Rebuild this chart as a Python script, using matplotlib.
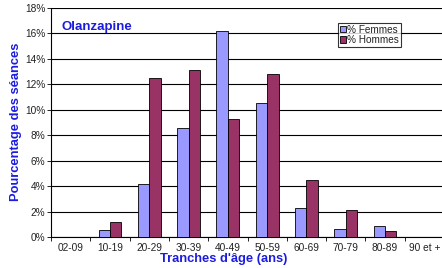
import numpy as np
import matplotlib
matplotlib.use('Agg')
import matplotlib.pyplot as plt

plt.rcParams['font.family'] = ['Liberation Sans', 'DejaVu Sans']

tranches = ['02-09', '10-19', '20-29', '30-39', '40-49', '50-59',
            '60-69', '70-79', '80-89', '90 et +']
femmes = [0.0, 0.53, 4.2, 8.55, 16.2, 10.5, 2.25, 0.66, 0.87, 0.0]
hommes = [0.0, 1.19, 12.5, 13.15, 9.3, 12.8, 4.46, 2.11, 0.45, 0.0]

blue = '#1c1ce0'

fig = plt.figure(figsize=(4.42, 2.68), dpi=100)
ax = fig.add_axes([51/442, 1 - 237/268, 393/442, 229/268])

x = np.arange(len(tranches))
w = 0.29
ax.bar(x - w/2, femmes, w, color='#9999FF', edgecolor='black', linewidth=0.6,
       label='% Femmes', zorder=3)
ax.bar(x + w/2, hommes, w, color='#993366', edgecolor='black', linewidth=0.6,
       label='% Hommes', zorder=3)

ax.set_xlim(-0.5, len(tranches) - 0.5)
ax.set_ylim(0, 18)
ax.set_yticks(range(0, 19, 2))
ax.set_yticklabels(['%d%%' % v for v in range(0, 19, 2)])
ax.yaxis.grid(True, color='black', linewidth=0.8, zorder=0)
ax.set_xticks(x)
ax.set_xticklabels(tranches)
ax.set_xticks(np.arange(-0.5, len(tranches)), minor=True)
ax.tick_params(axis='x', which='major', length=0, labelsize=7.3, pad=4,
               labelcolor='#222222')
ax.tick_params(axis='x', which='minor', length=3, width=0.6)
ax.tick_params(axis='y', length=3, width=0.6, labelsize=7.3, pad=1,
               labelcolor='#222222')
for s in ['right', 'top']:
    ax.spines[s].set_visible(False)
ax.spines['left'].set_linewidth(0.8)
ax.spines['bottom'].set_linewidth(0.8)

fig.text(62/442, 1 - 27/268, 'Olanzapine', color=blue,
         fontsize=9.5, fontweight='bold', va='center')
fig.text(224/442, 1 - 259/268, "Tranches d'âge (ans)", color=blue,
         fontsize=9.3, fontweight='bold', ha='center', va='center')
fig.text(16/442, 1 - 122/268, 'Pourcentage des séances', color=blue,
         fontsize=9.3, fontweight='bold', ha='center', va='center',
         rotation=90)

leg = fig.legend(loc='upper left', bbox_to_anchor=(337.5/442, 1 - 22.7/268),
                 fontsize=7.2, frameon=True, fancybox=False, edgecolor='black',
                 handlelength=0.6, handleheight=0.6, handletextpad=0.15,
                 borderpad=0.2, labelspacing=0.05, borderaxespad=0)
leg.get_frame().set_linewidth(0.8)
for t in leg.get_texts():
    t.set_color('#222222')

fig.savefig('out.png', dpi=100)
